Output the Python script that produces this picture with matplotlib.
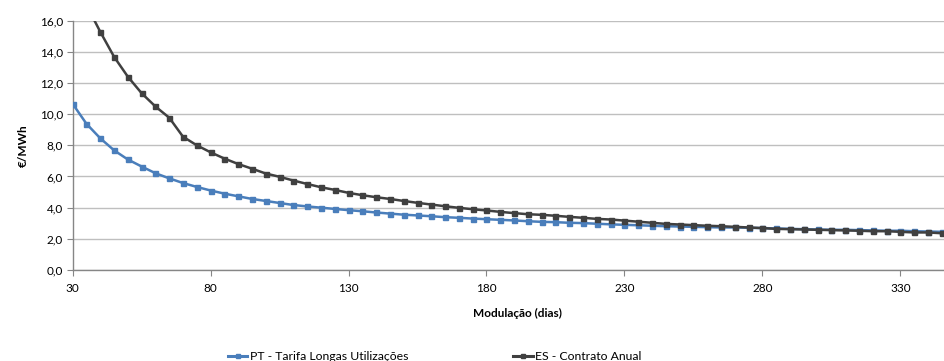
import matplotlib
matplotlib.use("Agg")
import matplotlib.pyplot as plt
from matplotlib.lines import Line2D
from matplotlib.ticker import FuncFormatter, MultipleLocator

# Modulation days (every 5 days)
dias = list(range(30, 350, 5))

# PT - Tarifa Longas Utilizações (€/MWh)
pt_tarifa = [10.66, 9.38, 8.45, 7.68, 7.09, 6.64, 6.21, 5.88, 5.58, 5.33,
             5.10, 4.90, 4.73, 4.56, 4.43, 4.30, 4.17, 4.08, 4.00, 3.92,
             3.84, 3.77, 3.69, 3.62, 3.55, 3.50, 3.45, 3.39, 3.35, 3.30,
             3.26, 3.22, 3.18, 3.13, 3.09, 3.07, 3.03, 3.01, 2.97, 2.93,
             2.90, 2.87, 2.84, 2.81, 2.79, 2.77, 2.75, 2.73, 2.73, 2.71,
             2.69, 2.67, 2.64, 2.62, 2.60, 2.58, 2.58, 2.56, 2.54, 2.52,
             2.52, 2.49, 2.47, 2.45]

# ES - Contrato Anual (€/MWh)
es_contrato = [19.00, 17.00, 15.28, 13.68, 12.40, 11.34, 10.49, 9.77, 8.55, 8.00,
               7.55, 7.15, 6.80, 6.50, 6.19, 5.98, 5.74, 5.52, 5.31, 5.14,
               4.95, 4.80, 4.67, 4.56, 4.43, 4.31, 4.20, 4.09, 3.99, 3.90,
               3.82, 3.73, 3.65, 3.58, 3.54, 3.48, 3.41, 3.35, 3.28, 3.24,
               3.17, 3.10, 3.03, 2.96, 2.92, 2.88, 2.84, 2.81, 2.77, 2.73,
               2.69, 2.64, 2.62, 2.60, 2.58, 2.56, 2.54, 2.52, 2.49, 2.49,
               2.45, 2.41, 2.41, 2.36]

x_ticks = [30, 80, 130, 180, 230, 280, 330]

plt.rcParams["font.family"] = ["Lato", "DejaVu Sans"]

BLUE = "#4a7ebb"
DARK = "#404040"
AXIS = "#868686"
GRID = "#bfbfbf"

fig = plt.figure(figsize=(9.45, 3.61), dpi=100)
ax = fig.add_axes([0.0769, 0.252, 0.9231, 0.691])

ax.plot(dias, pt_tarifa, color=BLUE, lw=1.8, marker="s", ms=3.6,
        mec=BLUE, mfc=BLUE, clip_on=True, zorder=3)
ax.plot(dias, es_contrato, color=DARK, lw=1.8, marker="s", ms=3.6,
        mec=DARK, mfc=DARK, clip_on=True, zorder=4)

ax.set_xlim(30, 346.2)
ax.set_ylim(0, 16)
ax.yaxis.set_major_locator(MultipleLocator(2))
ax.yaxis.set_major_formatter(FuncFormatter(lambda v, p: f"{v:.1f}".replace(".", ",")))
ax.set_xticks(x_ticks)
ax.set_xticklabels([str(t) for t in x_ticks])

ax.grid(axis="y", color=GRID, lw=1.0, zorder=0)
ax.set_axisbelow(True)
for side in ("top", "right"):
    ax.spines[side].set_visible(False)
for side in ("left", "bottom"):
    ax.spines[side].set_color(AXIS)
    ax.spines[side].set_linewidth(1.0)

ax.tick_params(axis="both", which="major", direction="out", length=4,
               color=AXIS, labelsize=8.5, labelcolor="#000000")
ax.tick_params(axis="y", pad=3)
ax.tick_params(axis="x", pad=5)

ax.set_ylabel("€/MWh", fontsize=8.5, fontweight="bold", labelpad=8)
fig.text(0.548, 0.133, "Modulação (dias)", ha="center", va="center",
         fontsize=8.5, fontweight="bold")

h_pt = Line2D([], [], color=BLUE, lw=2.2, marker="s", ms=3, mfc=BLUE, mec=BLUE)
h_es = Line2D([], [], color=DARK, lw=2.2, marker="s", ms=3, mfc=DARK, mec=DARK)
fig.legend([h_pt], ["PT - Tarifa Longas Utilizações"], loc="center left",
           bbox_to_anchor=(0.241, 0.012), frameon=False, fontsize=8.8,
           handlelength=1.6, handletextpad=0.2, borderpad=0, borderaxespad=0)
fig.legend([h_es], ["ES - Contrato Anual"], loc="center left",
           bbox_to_anchor=(0.543, 0.012), frameon=False, fontsize=8.8,
           handlelength=1.6, handletextpad=0.2, borderpad=0, borderaxespad=0)

fig.savefig("out.png", dpi=100)
